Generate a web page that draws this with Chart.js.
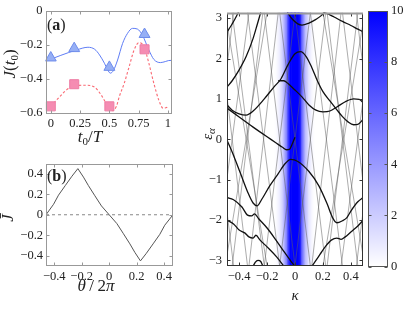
<!DOCTYPE html>
<html><head><meta charset="utf-8">
<script src="https://cdn.jsdelivr.net/npm/chart.js@4.4.1/dist/chart.umd.min.js"></script>
<style>
html,body{margin:0;padding:0;background:#fff;}
body{width:407px;height:309px;position:relative;overflow:hidden;}
canvas{position:absolute;}
</style></head><body>
<canvas id="cA" width="180" height="150" style="left:0px;top:0px"></canvas>
<canvas id="cB" width="180" height="159" style="left:0px;top:150px"></canvas>
<canvas id="cC" width="180" height="309" style="left:185px;top:0px"></canvas>
<canvas id="cD" width="47" height="309" style="left:360px;top:0px"></canvas>
<script>
const PI = Math.PI;
// ---------- panel (a) ----------
const blueT = [-0.045,-0.034,0.08,0.219,0.317,0.375,0.416,0.458,0.486,0.508,0.534,0.57,0.613,0.655,0.697,0.739,0.781,0.837,0.879,0.936,0.977,1.006,1.03];
const blueJ = [-0.293,-0.291,-0.262,-0.229,-0.213,-0.225,-0.258,-0.307,-0.346,-0.365,-0.35,-0.288,-0.19,-0.131,-0.102,-0.106,-0.141,-0.229,-0.284,-0.303,-0.297,-0.291,-0.29];
const pinkT = [0.0,0.04,0.079,0.135,0.205,0.303,0.375,0.43,0.472,0.5,0.53,0.56,0.585,0.627,0.669,0.711,0.753,0.795,0.837,0.879,0.921,0.958,0.992,1.0];
const pinkJ = [-0.56,-0.53,-0.502,-0.463,-0.44,-0.436,-0.448,-0.493,-0.542,-0.571,-0.585,-0.56,-0.502,-0.424,-0.326,-0.229,-0.186,-0.21,-0.307,-0.424,-0.522,-0.571,-0.565,-0.56];
const markT = [0, 0.2, 0.5, 0.8];
const triJ = [-0.275, -0.22, -0.33, -0.137];
const sqJ = [-0.56, -0.43, -0.56, -0.225];
const aTicksX = [0, 0.25, 0.5, 0.75, 1];
const aTicksY = [-0.6, -0.4, -0.2, 0];
// ---------- panel (b) ----------
const thetaB = [-0.46,-0.405,-0.369,-0.32,-0.271,-0.228,-0.187,-0.151,-0.104,-0.056,0,0.056,0.104,0.151,0.187,0.228,0.271,0.32,0.369,0.405,0.465];
const jbarB = [0,0.102,0.191,0.284,0.376,0.45,0.367,0.284,0.185,0.086,0,-0.086,-0.185,-0.284,-0.367,-0.45,-0.376,-0.284,-0.191,-0.102,0];
const zeroX = [-0.46, 0.465];
const zeroY = [0, 0];
const bTicksX = [-0.4, -0.2, 0, 0.2, 0.4];
const bTicksY = [-0.4, -0.2, 0, 0.2, 0.4];
// ---------- panel (c) ----------
const heatK = [-0.15,-0.14,-0.13,-0.12,-0.11,-0.10,-0.09,-0.08,-0.07,-0.06,-0.05,-0.04,-0.03,-0.02,-0.01,0,0.01,0.02,0.03,0.04,0.05,0.06,0.07,0.08,0.09,0.10,0.11,0.12,0.13,0.14,0.15];
const heatV = [0,0.05,0.2,0.4,0.7,1.1,1.7,2.5,3.5,4.8,6.5,8.6,10,10,10,10,10,10,10,8.6,6.5,4.8,3.5,2.5,1.7,1.1,0.7,0.4,0.2,0.05,0];
// thin bands: [kappa at eps=-pi, kappa at eps=+pi] (rising) and [kappa at +pi, kappa at -pi] (falling)
const greyUp = [[-0.66,-0.44],[-0.57,-0.33],[-0.45,-0.23],[-0.33,-0.12],[-0.22,0.0],[-0.11,0.11],[0.0,0.22],[0.12,0.33],[0.23,0.45],[0.33,0.57],[0.44,0.66],[-0.5,-0.2],[0.2,0.5]];
const greyDown = [[-0.66,-0.44],[-0.56,-0.34],[-0.45,-0.22],[-0.34,-0.11],[-0.22,0.0],[-0.11,0.11],[0.0,0.22],[0.11,0.34],[0.23,0.45],[0.34,0.56],[0.44,0.66],[-0.5,-0.2],[0.2,0.5]];
const bandA1 = [[-0.49,2.64],[-0.46,2.8],[-0.43,2.98],[-0.405,3.15]];
const bandA2 = [[0.205,3.15],[0.24,3.1],[0.28,3.03],[0.34,2.92],[0.4,2.82],[0.45,2.73],[0.49,2.66]];
const bandTop = [[-0.055,3.15],[-0.02,2.98],[0.02,2.86],[0.05,2.83],[0.1,2.88],[0.15,2.97],[0.19,3.07],[0.21,3.15]];
const bandB = [[-0.49,1.28],[-0.45,1.45],[-0.4,1.72],[-0.35,2.05],[-0.3,2.5],[-0.27,2.85],[-0.245,3.15]];
const bandD = [[-0.49,0.86],[-0.45,0.72],[-0.4,0.63],[-0.35,0.6],[-0.3,0.7],[-0.22,1.0],[-0.15,1.3],[-0.1,1.5],[-0.05,1.85],[0.0,2.12],[0.04,2.17],[0.08,2.05],[0.12,1.78],[0.16,1.45],[0.2,1.18],[0.25,0.95],[0.3,0.73],[0.34,0.56],[0.38,0.43],[0.42,0.36],[0.45,0.37],[0.49,0.5]];
const bandE = [[-0.12,1.45],[-0.08,1.45],[-0.05,1.38],[0.0,1.22],[0.05,1.05],[0.1,0.85],[0.15,0.72],[0.2,0.68],[0.25,0.7],[0.3,0.8],[0.36,0.93],[0.42,1.0],[0.46,0.99],[0.49,0.9]];
const bandF = [[-0.49,0.78],[-0.4,0.55],[-0.3,0.3],[-0.2,0.06],[-0.14,-0.08],[-0.09,-0.2],[-0.06,-0.26],[-0.04,-0.25],[-0.02,-0.12],[0.0,0.05]];
const bandG = [[-0.49,0.0],[-0.44,-0.4],[-0.39,-0.85],[-0.34,-1.3],[-0.3,-1.58],[-0.27,-1.65],[-0.24,-1.5],[-0.18,-1.15],[-0.12,-0.85],[-0.07,-0.6],[-0.03,-0.5],[0.02,-0.55],[0.1,-0.8],[0.17,-1.15],[0.23,-1.6],[0.27,-1.95],[0.3,-2.07],[0.34,-2.02],[0.37,-1.95],[0.4,-1.78],[0.45,-1.55],[0.49,-1.44]];
const bandH = [[-0.49,-1.44],[-0.44,-1.5],[-0.38,-1.68],[-0.34,-1.88],[-0.31,-1.9],[-0.29,-1.85],[-0.26,-1.97],[-0.2,-2.2],[-0.14,-2.48],[-0.08,-2.78],[-0.03,-3.02],[0.0,-3.15]];
const bandI = [[-0.49,-2.0],[-0.44,-2.1],[-0.4,-2.25],[-0.36,-2.32],[-0.33,-2.42],[-0.3,-2.45],[-0.28,-2.38],[-0.25,-2.5],[-0.19,-2.7],[-0.13,-2.92],[-0.08,-3.15]];
const bandJ = [[0.12,-3.15],[0.15,-3.0],[0.18,-2.85],[0.22,-2.65],[0.26,-2.5],[0.3,-2.45],[0.33,-2.48],[0.36,-2.42],[0.4,-2.3],[0.45,-2.15],[0.49,-2.0]];
const bandArc = [[-0.3,-3.15],[-0.285,-3.05],[-0.265,-3.0],[-0.245,-3.03],[-0.23,-3.15]];
const cTicksX = [-0.4, -0.2, 0, 0.2, 0.4];
const cTicksY = [-3, -2, -1, 0, 1, 2, 3];
const cbTicks = [0, 2, 4, 6, 8, 10];

// ---------- helpers ----------
const SERIF = "'Liberation Serif','DejaVu Serif',serif";
const tickFont = {family: SERIF, size: 12.5};
const fmt = v => { const r = Math.round(v*100)/100; return (r < 0 ? '\u2212' : '') + String(Math.abs(r)); };
const xy = (xs, ys) => xs.map((x, i) => ({x, y: ys[i]}));
const pts = a => a.map(p => ({x: p[0], y: p[1]}));
const heatColor = v => { const c = Math.round(255*(1 - Math.min(v, 10)/10)); return `rgb(${c},${c},255)`; };

function linAxis(o) {
  return {
    type: 'linear', position: o.pos, min: o.min, max: o.max, offset: false,
    grid: {display: false, drawTicks: false}, border: {display: false},
    afterBuildTicks: s => { s.ticks = o.ticks.map(v => ({value: v})); },
    afterFit: s => { if (o.w != null) s.width = o.w; if (o.h != null) s.height = o.h; },
    ticks: {font: tickFont, color: '#222', padding: o.pad, maxRotation: 0, minRotation: 0, autoSkip: false, callback: fmt}
  };
}
function framePlugin(color, tickLen, topColor) {
  return {id: 'frame', afterDatasetsDraw(chart) {
    const {left, top, right, bottom} = chart.chartArea; const c = chart.ctx;
    c.save(); c.strokeStyle = color; c.lineWidth = 1;
    const L = Math.round(left) + 0.5, T = Math.round(top) + 0.5, R = Math.round(right) - 0.5, B = Math.round(bottom) - 0.5;
    c.strokeRect(L, T, R - L, B - T);
    c.beginPath();
    const sx = chart.scales.x, sy = chart.scales.y;
    if (sx && sx.options.display !== false) for (const t of sx.ticks) { const p = Math.round(sx.getPixelForValue(t.value)) + 0.5; c.moveTo(p, B); c.lineTo(p, B - tickLen); c.moveTo(p, T); c.lineTo(p, T + tickLen); }
    if (sy) for (const t of sy.ticks) { const p = Math.round(sy.getPixelForValue(t.value)) + 0.5; c.moveTo(L, p); c.lineTo(L + tickLen, p); c.moveTo(R, p); c.lineTo(R - tickLen, p); }
    c.stroke();
    if (topColor) { c.strokeStyle = topColor; c.lineWidth = 2; c.beginPath(); c.moveTo(L - 0.5, T); c.lineTo(R + 0.5, T); c.stroke(); }
    c.restore();
  }};
}
function textPlugin(items) {
  return {id: 'texts', afterDraw(chart) {
    const c = chart.ctx;
    for (const t of items) {
      c.save(); c.translate(t.x, t.y); if (t.rot) c.rotate(t.rot);
      let w = 0; for (const p of t.parts) { c.font = p[1]; w += c.measureText(p[0]).width; }
      let x = t.align === 'left' ? 0 : -w/2;
      c.fillStyle = '#222'; c.textBaseline = 'alphabetic';
      for (const p of t.parts) { c.font = p[1]; c.fillText(p[0], x, p[2] || 0); x += c.measureText(p[0]).width; }
      c.restore();
    }
  }};
}
const I17 = `italic 17px ${SERIF}`, R17 = `17px ${SERIF}`, R11 = `11px ${SERIF}`;
const I15 = `italic 15px ${SERIF}`, I10 = `italic 11px ${SERIF}`;
const R16 = `16px ${SERIF}`, B16 = `bold 16px ${SERIF}`;
const common = {responsive: false, animation: false, events: [], plugins: {legend: {display: false}, tooltip: {enabled: false}}};

// ---------- chart (a) ----------
new Chart(document.getElementById('cA'), {
  type: 'line',
  data: {datasets: [
    {data: xy(markT, triJ), showLine: false, pointStyle: 'triangle', pointRadius: 6.3, backgroundColor: 'rgb(150,175,245)', borderColor: 'rgb(110,140,235)', borderWidth: 1, order: 0},
    {data: xy(markT, sqJ), showLine: false, pointStyle: 'rect', pointRadius: 6.4, backgroundColor: 'rgb(245,140,178)', borderColor: 'rgb(238,125,165)', borderWidth: 1, order: 0},
    {data: xy(blueT, blueJ), borderColor: 'rgb(95,125,245)', borderWidth: 1, pointRadius: 0, cubicInterpolationMode: 'monotone', order: 2},
    {data: xy(pinkT, pinkJ), borderColor: 'rgb(250,105,115)', borderWidth: 1.1, borderDash: [2.5, 2], pointRadius: 0, cubicInterpolationMode: 'monotone', order: 3}
  ]},
  options: {...common,
    layout: {padding: {left: 0, top: 11, right: 8.5, bottom: 0}},
    scales: {
      x: linAxis({pos: 'bottom', min: -0.045, max: 1.03, ticks: aTicksX, h: 36, pad: 2}),
      y: linAxis({pos: 'left', min: -0.605, max: 0, ticks: aTicksY, w: 45.5, pad: 3})
    }},
  plugins: [framePlugin('#999', 3), textPlugin([
    {x: 15, y: 64, rot: -PI/2, parts: [['J', I17], ['(', R17], ['t', I17], ['0', R11, 3], [')', R17]]},
    {x: 90, y: 142, parts: [['t', I17], ['0', R11, 3], ['/', R17], ['T', I17]]},
    {x: 47, y: 30, align: 'left', parts: [['(', R16], ['a', B16], [')', R16]]}
  ])]
});

// ---------- chart (b) ----------
new Chart(document.getElementById('cB'), {
  type: 'line',
  data: {datasets: [
    {data: xy(thetaB, jbarB), borderColor: '#555', borderWidth: 1, pointRadius: 0, tension: 0, order: 0},
    {data: xy(zeroX, zeroY), borderColor: '#888', borderWidth: 1, borderDash: [3, 3], pointRadius: 0, order: 1}
  ]},
  options: {...common,
    layout: {padding: {left: 0, top: 13.5, right: 7, bottom: 0}},
    scales: {
      x: linAxis({pos: 'bottom', min: -0.46, max: 0.465, ticks: bTicksX, h: 43, pad: 3}),
      y: linAxis({pos: 'left', min: -0.5, max: 0.5, ticks: bTicksY, w: 46, pad: 3})
    }},
  plugins: [framePlugin('#999', 3), textPlugin([
    {x: 13, y: 68, rot: -PI/2, parts: [['J\u0304', I17]]},
    {x: 96, y: 141, parts: [['θ', I17], ['\u2009/\u2009', R17], ['2', R17], ['π', I17]]},
    {x: 47, y: 31, align: 'left', parts: [['(', R16], ['b', B16], [')', R16]]}
  ])]
});

// ---------- chart (c) ----------
const greyData = [];
greyUp.forEach(([a, b]) => { greyData.push({x: a, y: -PI}, {x: b, y: PI}, {x: b, y: null}); });
greyDown.forEach(([a, b]) => { greyData.push({x: a, y: PI}, {x: b, y: -PI}, {x: b, y: null}); });
const bands = [bandA1, bandA2, bandTop, bandB, bandD, bandE, bandF, bandG, bandH, bandI, bandJ, bandArc];
const cDatasets = [
  {type: 'bar', data: heatK.map(k => ({x: k, y: [-PI, PI]})), backgroundColor: heatV.map(heatColor), borderWidth: 0, barPercentage: 1, categoryPercentage: 1, grouped: false, order: 10},
  {type: 'line', data: greyData, borderColor: 'rgba(95,95,95,0.65)', borderWidth: 0.8, pointRadius: 0, spanGaps: false, tension: 0, order: 5}
];
bands.forEach(b => cDatasets.push({type: 'line', data: pts(b), borderColor: '#111', borderWidth: 1.3, pointRadius: 0, cubicInterpolationMode: 'monotone', order: 1}));
new Chart(document.getElementById('cC'), {
  type: 'bar',
  data: {datasets: cDatasets},
  options: {...common,
    layout: {padding: {left: 0, top: 11, right: 2, bottom: 0}},
    scales: {
      x: linAxis({pos: 'bottom', min: -0.487, max: 0.487, ticks: cTicksX, h: 43, pad: 3}),
      y: linAxis({pos: 'left', min: -PI, max: PI, ticks: cTicksY, w: 42, pad: 5})
    }},
  plugins: [framePlugin('#333', 3, '#999'), textPlugin([
    {x: 27, y: 134, rot: -PI/2, parts: [['ε', I15], ['α', I10, 3]]},
    {x: 110, y: 300, parts: [['κ', I15]]}
  ])]
});

// ---------- colour bar ----------
new Chart(document.getElementById('cD'), {
  type: 'bar',
  data: {labels: ['cb'], datasets: [{data: [[cbTicks[0], cbTicks[cbTicks.length - 1]]], borderWidth: 0, barPercentage: 1, categoryPercentage: 1,
    backgroundColor: ctx => { const ca = ctx.chart.chartArea; if (!ca) return 'rgb(0,0,255)';
      const g = ctx.chart.ctx.createLinearGradient(0, ca.bottom, 0, ca.top);
      g.addColorStop(0, heatColor(cbTicks[0])); g.addColorStop(1, heatColor(cbTicks[cbTicks.length - 1])); return g; }}]},
  options: {...common,
    layout: {padding: {left: 8, top: 11, right: 0, bottom: 42.5}},
    scales: {
      x: {display: false},
      y: linAxis({pos: 'right', min: 0, max: 10, ticks: cbTicks, w: 19, pad: 3})
    }},
  plugins: [framePlugin('#555', 3)]
});
</script></body></html>
